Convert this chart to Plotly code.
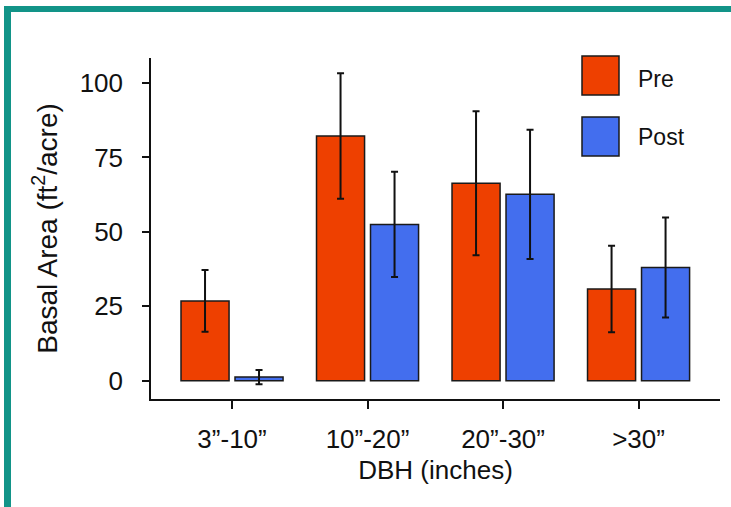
import plotly.graph_objects as go

categories = ["3\u201d-10\u201d", "10\u201d-20\u201d", "20\u201d-30\u201d", ">30\u201d"]
series_names = ["Pre", "Post"]
pre_values = [26.8, 82.2, 66.3, 30.8]
pre_errors = [10.4, 21.1, 24.2, 14.5]
post_values = [1.2, 52.5, 62.6, 38.0]
post_errors = [2.4, 17.7, 21.7, 16.8]
y_ticks = [0, 25, 50, 75, 100]

RED = "#EE4000"
BLUE = "#436EEE"
TEAL = "#129488"
FONT = "Arial, Liberation Sans, sans-serif"

W, H = 731, 507
L, R, T, B = 151, 11, 58, 108
PW, PH = W - L - R, H - T - B


def px_x(p):
    return (p - L) / PW


def px_y(p):
    return (H - B - p) / PH


fig = go.Figure()
for name, vals, errs, col in [
    (series_names[0], pre_values, pre_errors, RED),
    (series_names[1], post_values, post_errors, BLUE),
]:
    fig.add_trace(go.Bar(
        x=categories, y=vals, name=name,
        marker=dict(color=col, line=dict(color="#1a1a1a", width=1.5)),
        error_y=dict(type="data", array=errs, visible=True,
                     color="#111111", thickness=2, width=3.5),
    ))

shapes = [
    # teal frame
    dict(type="rect", xref="paper", yref="paper",
         x0=px_x(4), x1=px_x(735), y0=px_y(6), y1=px_y(12),
         fillcolor=TEAL, line=dict(width=0), layer="above"),
    dict(type="rect", xref="paper", yref="paper",
         x0=px_x(4), x1=px_x(11), y0=px_y(6), y1=px_y(510),
         fillcolor=TEAL, line=dict(width=0), layer="above"),
    # legend boxes
    dict(type="rect", xref="paper", yref="paper",
         x0=px_x(582), x1=px_x(619), y0=px_y(56), y1=px_y(95),
         fillcolor=RED, line=dict(color="#1a1a1a", width=1.5)),
    dict(type="rect", xref="paper", yref="paper",
         x0=px_x(582), x1=px_x(619), y0=px_y(117), y1=px_y(156),
         fillcolor=BLUE, line=dict(color="#1a1a1a", width=1.5)),
]

annotations = [
    dict(text=series_names[0], xref="paper", yref="paper", x=px_x(636), y=px_y(79),
         xanchor="left", yanchor="middle", showarrow=False,
         font=dict(family=FONT, size=23, color="#111111")),
    dict(text=series_names[1], xref="paper", yref="paper", x=px_x(636), y=px_y(137),
         xanchor="left", yanchor="middle", showarrow=False,
         font=dict(family=FONT, size=23, color="#111111")),
]

fig.update_layout(
    width=W, height=H,
    margin=dict(l=L, r=R, t=T, b=B, pad=0),
    paper_bgcolor="white", plot_bgcolor="white",
    barmode="group", bargap=0.203, bargroupgap=0.11,
    showlegend=False,
    font=dict(family=FONT, size=26, color="#111111"),
    shapes=shapes, annotations=annotations,
    xaxis=dict(
        type="category", range=[-0.598, 3.601],
        showline=True, linecolor="#111111", linewidth=1.5,
        ticks="outside", ticklen=8, tickwidth=1.5, tickcolor="#111111",
        ticklabelstandoff=8,
        showgrid=False, zeroline=False,
        tickfont=dict(family=FONT, size=26, color="#111111"),
        title=dict(text="DBH (inches)", standoff=8,
                   font=dict(family=FONT, size=26, color="#111111")),
    ),
    yaxis=dict(
        range=[-6.15, 108.4], tickvals=y_ticks,
        showline=True, linecolor="#111111", linewidth=1.5,
        ticks="outside", ticklen=7, tickwidth=1.5, tickcolor="#111111",
        ticklabelstandoff=14,
        showgrid=False, zeroline=False,
        tickfont=dict(family=FONT, size=26, color="#111111"),
        title=dict(text="Basal Area (ft<sup>2</sup>/acre)", standoff=14,
                   font=dict(family=FONT, size=28, color="#111111")),
    ),
)

fig.write_html("out.html")
